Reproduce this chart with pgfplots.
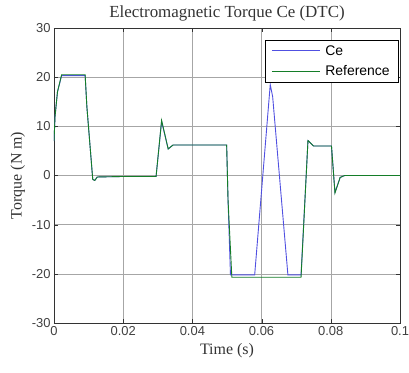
\documentclass[border=0pt]{standalone}
\usepackage{fontspec}
\setmainfont{Liberation Serif}
\newfontfamily\sansf{Liberation Sans}
\usepackage{pgfplots}
\pgfplotsset{compat=1.18}
\definecolor{ceblue}{RGB}{80,80,225}
\definecolor{refgreen}{RGB}{20,125,40}
\begin{document}
\begin{tikzpicture}
\begin{axis}[
  scale only axis,
  width=346bp, height=295bp,
  xmin=0, xmax=0.1, ymin=-30, ymax=30,
  xtick={0,0.02,0.04,0.06,0.08,0.1},
  xticklabels={0,0.02,0.04,0.06,0.08,0.1},
  ytick={-30,-20,-10,0,10,20,30},
  grid=major,
  major grid style={gray!70, line width=0.5pt},
  axis line style={black!80},
  tick style={black!80},
  tick align=inside,
  tick label style={font=\sansf\fontsize{13}{15}\selectfont, color=black!75},
  /pgf/number format/assume math mode=true,
  title={Electromagnetic Torque Ce (DTC)},
  title style={font=\fontsize{17}{19}\selectfont, yshift=-3bp, color=black!80},
  xlabel={Time (s)},
  ylabel={Torque (N m)},
  label style={font=\fontsize{16}{18}\selectfont, color=black!80},
  xlabel style={yshift=-1bp},
  ylabel style={yshift=0bp},
  legend style={at={(rel axis cs:0.994,0.959)}, anchor=north east,
    font=\sansf\fontsize{14}{16}\selectfont, draw=black, fill=white,
    inner xsep=6bp, inner ysep=3bp, row sep=5bp, column sep=3bp,
    cells={anchor=west}},
  legend cell align=left,
  legend image code/.code={\draw[#1] (0bp,0bp) -- (48bp,0bp);},
]
\addplot[ceblue, line width=0.9pt] coordinates {
(0,7) (0.0003,12) (0.001,17) (0.0022,20.3) (0.009,20.3) (0.0095,14)
(0.0112,-0.8) (0.0118,-1.0) (0.0125,-0.3) (0.02,-0.2) (0.0295,-0.2)
(0.0311,11) (0.033,5.4) (0.0344,6.2) (0.0499,6.2) (0.0503,-5) (0.051,-20.2)
(0.058,-20.2) (0.0625,18.5) (0.0632,16) (0.0676,-20.2) (0.0714,-20.2)
(0.0734,7.1) (0.075,6.0) (0.0802,6.0) (0.0812,-3.4) (0.0827,-0.4)
(0.084,0) (0.1,0)};
\addlegendentry{Ce}
\addplot[refgreen, line width=0.9pt] coordinates {
(0,7) (0.0003,12) (0.001,17) (0.0022,20.5) (0.009,20.5) (0.0095,14)
(0.0112,-0.8) (0.0118,-1.0) (0.0125,-0.3) (0.02,-0.2) (0.0295,-0.2)
(0.0311,11.2) (0.033,5.4) (0.0344,6.2) (0.0499,6.2) (0.0503,-5) (0.0514,-20.7)
(0.0714,-20.7)
(0.0734,7.1) (0.075,6.0) (0.0802,6.0) (0.0812,-3.6) (0.0827,-0.4)
(0.084,0) (0.1,0)};
\addlegendentry{Reference}
\end{axis}
\pgfresetboundingbox
\useasboundingbox (-54bp,-50bp) rectangle (355bp,323bp);
\end{tikzpicture}
\end{document}
